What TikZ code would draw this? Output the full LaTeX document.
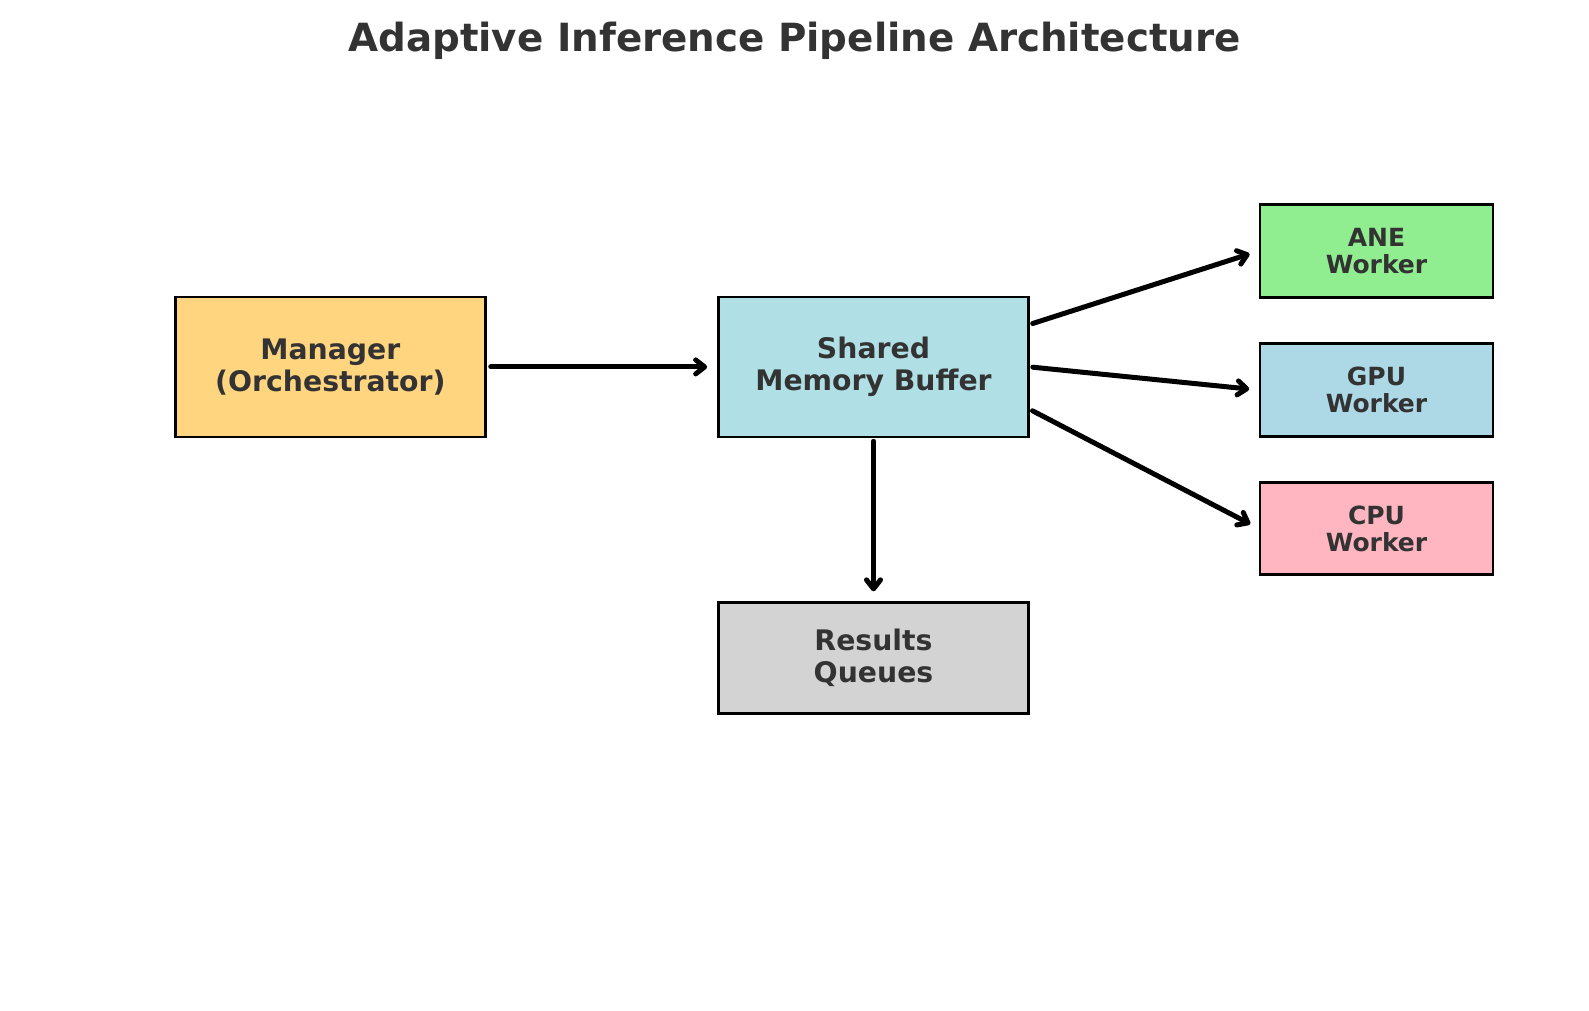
\documentclass[tikz,border=0pt]{standalone}
\usepackage{fontspec}
\setmainfont{DejaVu Sans}
\usetikzlibrary{arrows.meta,calc}
\definecolor{txt}{HTML}{333333}
\definecolor{cmanager}{HTML}{FFD580}
\definecolor{cshared}{HTML}{B0E0E6}
\definecolor{cane}{HTML}{90EE90}
\definecolor{cgpu}{HTML}{ADD8E6}
\definecolor{ccpu}{HTML}{FFB6C1}
\definecolor{cres}{HTML}{D3D3D3}
\tikzset{
  box/.style={draw=black, line width=2.7pt, inner sep=0pt, align=center, text=txt,
    font=\bfseries\fontsize{28.3}{31.5}\selectfont},
  bigbox/.style={box, minimum width=310pt, minimum height=140pt},
  resbox/.style={box, minimum width=310pt, minimum height=111pt},
  workbox/.style={box, minimum width=233pt, minimum height=92.5pt,
    font=\bfseries\fontsize{25}{27}\selectfont},
  conn/.style={line width=5pt, line cap=round, -{Straight Barb[length=9pt,width=14pt,line cap=round,line join=round]}},
}
\begin{document}
\begin{tikzpicture}[x=1pt,y=-1pt]
\useasboundingbox (0,0) rectangle (1589,1010);
\node[font=\bfseries\fontsize{38.8}{40}\selectfont, text=txt] (title) at (794.5,40.5) {Adaptive Inference Pipeline Architecture};
\node[bigbox, fill=cmanager] (manager) at (330.4,366.9) {Manager\\(Orchestrator)};
\node[bigbox, fill=cshared] (shared) at (873.5,366.9) {Shared\\Memory Buffer};
\node[resbox, fill=cres] (results) at (873.5,657.7) {Results\\Queues};
\node[workbox, fill=cane] (ane) at (1376.5,251) {ANE\\Worker};
\node[workbox, fill=cgpu] (gpu) at (1376.5,390) {GPU\\Worker};
\node[workbox, fill=ccpu] (cpu) at (1376.5,528.4) {CPU\\Worker};
\coordinate (s1) at ([yshift=42.5pt]shared.east);
\coordinate (s3) at ([yshift=-42.5pt]shared.east);
\draw[conn, shorten <=4pt, shorten >=10pt] (manager.east) -- (shared.west);
\draw[conn, shorten <=3pt, shorten >=9.5pt] (s1) -- (ane.west);
\draw[conn, shorten <=3pt, shorten >=9.5pt] (shared.east) -- (gpu.west);
\draw[conn, shorten <=3pt, shorten >=9.5pt] (s3) -- (cpu.west);
\draw[conn, shorten <=3pt, shorten >=9.5pt] (shared.south) -- (results.north);
\end{tikzpicture}
\end{document}
